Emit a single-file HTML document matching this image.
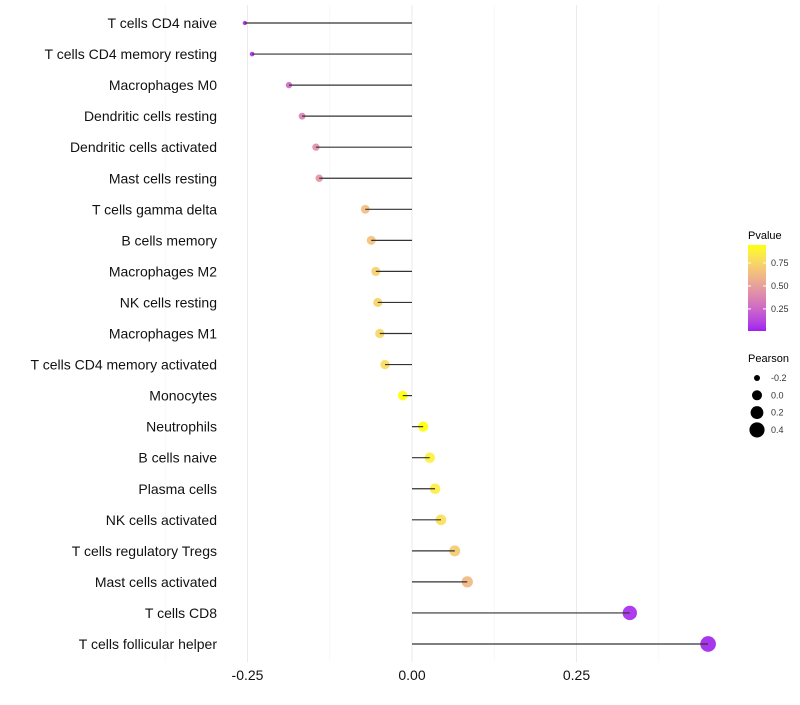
<!DOCTYPE html>
<html><head><meta charset="utf-8"><style>
body{margin:0;background:#fff;}
svg text{font-family:"Liberation Sans",sans-serif;}
</style></head><body>
<svg id="chart" width="800" height="700"></svg>
<script>
const categories=["T cells CD4 naive","T cells CD4 memory resting","Macrophages M0","Dendritic cells resting","Dendritic cells activated","Mast cells resting","T cells gamma delta","B cells memory","Macrophages M2","NK cells resting","Macrophages M1","T cells CD4 memory activated","Monocytes","Neutrophils","B cells naive","Plasma cells","NK cells activated","T cells regulatory  Tregs ","Mast cells activated","T cells CD8","T cells follicular helper"];
const pearson=[-0.254,-0.243,-0.187,-0.167,-0.146,-0.141,-0.071,-0.062,-0.055,-0.052,-0.049,-0.041,-0.014,0.017,0.027,0.035,0.044,0.065,0.084,0.331,0.450];
const pvalues=[0.04,0.06,0.28,0.36,0.43,0.46,0.64,0.66,0.72,0.74,0.76,0.78,0.94,0.94,0.88,0.86,0.80,0.70,0.62,0.04,0.02];
const xTicks=[-0.25,0,0.25];
const xTickLabels=["-0.25","0.00","0.25"];
const pTicks=[0.25,0.5,0.75];
const pTickLabels=["0.25","0.50","0.75"];
const sizeTicks=[-0.2,0,0.2,0.4];
const sizeTickLabels=["-0.2","0.0","0.2","0.4"];

const NS="http://www.w3.org/2000/svg";
const svg=document.getElementById('chart');
function mk(t,a,p){const e=document.createElementNS(NS,t);for(const k in a)e.setAttribute(k,a[k]);(p||svg).appendChild(e);return e;}
const x=v=>412+v*658;
const y=i=>23+i*31.05;
const pMin=0.01,pMax=0.945;
function toLab(r,g,b){const f=c=>{c/=255;return c<=0.04045?c/12.92:Math.pow((c+0.055)/1.055,2.4);};
 r=f(r);g=f(g);b=f(b);
 let X=(0.4124*r+0.3576*g+0.1805*b)/0.95047,Y=0.2126*r+0.7152*g+0.0722*b,Z=(0.0193*r+0.1192*g+0.9505*b)/1.08883;
 const h=t=>t>0.008856?Math.cbrt(t):7.787*t+16/116;X=h(X);Y=h(Y);Z=h(Z);
 return [116*Y-16,500*(X-Y),200*(Y-Z)];}
function fromLab(L,a,b){let Y=(L+16)/116,X=a/500+Y,Z=Y-b/200;
 const h=t=>t*t*t>0.008856?t*t*t:(t-16/116)/7.787;X=h(X)*0.95047;Y=h(Y);Z=h(Z)*1.08883;
 let r=3.2406*X-1.5372*Y-0.4986*Z,g=-0.9689*X+1.8758*Y+0.0415*Z,bb=0.0557*X-0.2040*Y+1.0570*Z;
 const f=c=>{c=c<=0.0031308?12.92*c:1.055*Math.pow(c,1/2.4)-0.055;return Math.round(Math.max(0,Math.min(1,c))*255);};
 return [f(r),f(g),f(bb)];}
const LA=toLab(160,32,240),LB=toLab(255,255,0);
function col(p){let t=(p-pMin)/(pMax-pMin);t=Math.max(0,Math.min(1,t));
 const c=fromLab(...LA.map((v,i)=>v+(LB[i]-v)*t));return `rgb(${c.join(',')})`;}
const rad=v=>1.12*Math.sqrt(Math.max(1,4+(v+0.25)*64));
[-0.375,-0.25,-0.125,0,0.125,0.25,0.375].forEach(v=>{const minor=Math.abs(v*8)%2===1;const g=mk('line',{x1:x(v),x2:x(v),y1:5,y2:662,stroke:minor?'#f4f4f4':'#ebebeb','stroke-width':minor?0.6:1});
});
categories.forEach((c,i)=>{
 const t=mk('text',{x:217,y:y(i)+5,'text-anchor':'end','font-size':14,fill:'#111'});t.textContent=c;
 
 const d=mk('circle',{cx:x(pearson[i]),cy:y(i),r:rad(pearson[i]),fill:col(pvalues[i]),'fill-opacity':0.92});
 
 const l=mk('line',{x1:x(0),x2:x(pearson[i]),y1:y(i),y2:y(i),stroke:'#333','stroke-width':1.2});
 
});
xTicks.forEach((v,i)=>{const t=mk('text',{x:x(v),y:680,'text-anchor':'middle','font-size':14,fill:'#111'});t.textContent=xTickLabels[i];
});
let tt=mk('text',{x:748,y:239,'font-size':11,fill:'#000'});tt.textContent='Pvalue';

const defs=mk('defs',{});const gr=mk('linearGradient',{id:'pg',x1:0,y1:1,x2:0,y2:0},defs);
for(let k=0;k<=20;k++)mk('stop',{offset:k/20,'stop-color':col(pMin+(pMax-pMin)*k/20)},gr);
const bar=mk('rect',{x:748,y:245,width:18,height:86,fill:'url(#pg)'});

const py=p=>331-(p-pMin)/(pMax-pMin)*86;
pTicks.forEach((p,i)=>{mk('line',{x1:748,x2:751,y1:py(p),y2:py(p),stroke:'#fff'});mk('line',{x1:763,x2:766,y1:py(p),y2:py(p),stroke:'#fff'});
const t=mk('text',{x:771,y:py(p)+3,'font-size':9,fill:'#333'});t.textContent=pTickLabels[i];
});
tt=mk('text',{x:748,y:362,'font-size':11,fill:'#000'});tt.textContent='Pearson';

sizeTicks.forEach((v,i)=>{const cy=378+i*17.3;const c=mk('circle',{cx:757,cy:cy,r:rad(v),fill:'#000'});

const t=mk('text',{x:771,y:cy+3,'font-size':9,fill:'#333'});t.textContent=sizeTickLabels[i];
});
</script>
</body></html>
